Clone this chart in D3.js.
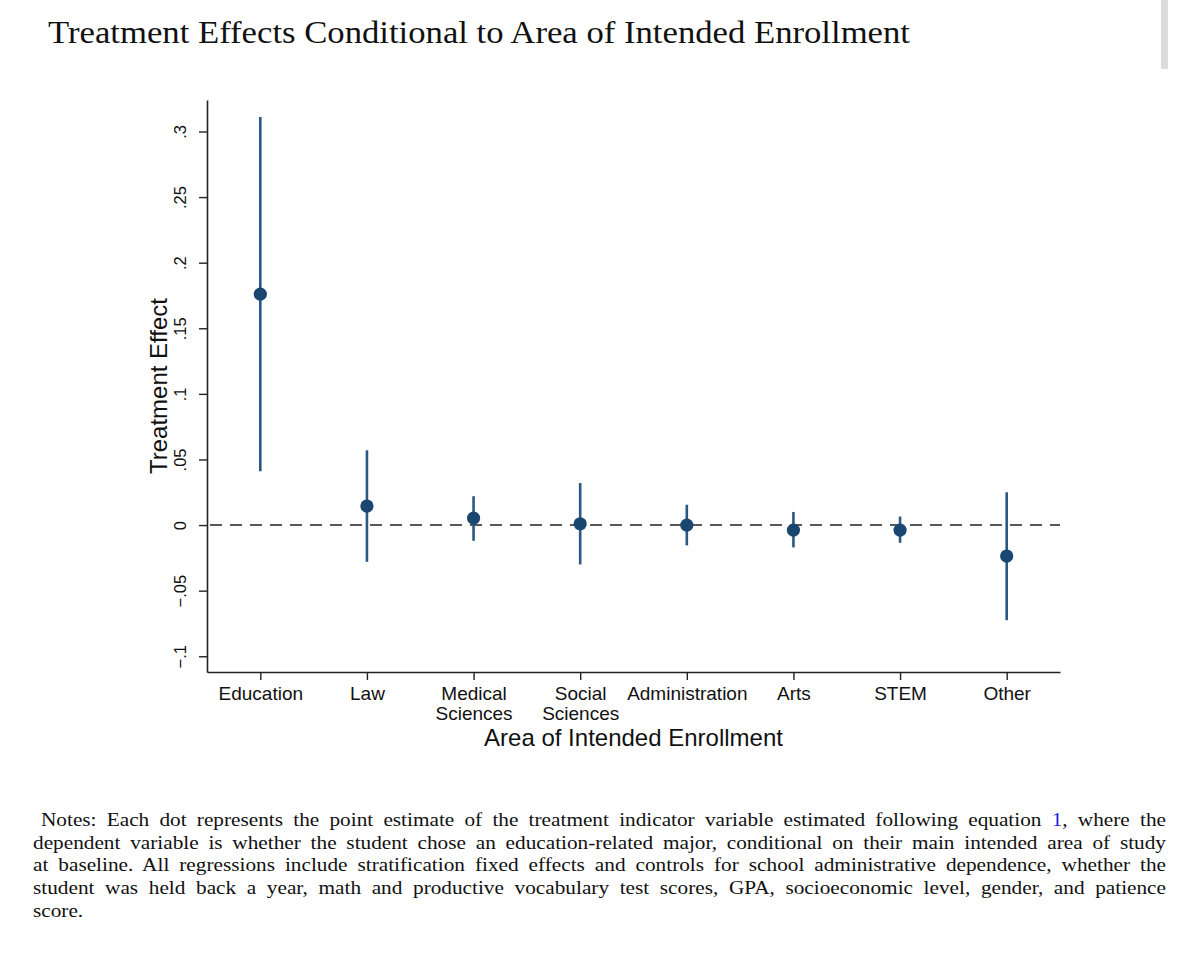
<!DOCTYPE html>
<html>
<head>
<meta charset="utf-8">
<script src="https://cdn.jsdelivr.net/npm/d3@7"></script>
<style>
  body { margin: 0; background: #fff; }
  svg { display: block; }
</style>
</head>
<body>
<div id="chart"></div>
<script>
// Data
const categories = ["Education", "Law", "Medical Sciences", "Social Sciences", "Administration", "Arts", "STEM", "Other"];
const labelLines = [["Education"], ["Law"], ["Medical", "Sciences"], ["Social", "Sciences"], ["Administration"], ["Arts"], ["STEM"], ["Other"]];
const estimates = [0.176, 0.0145, 0.0053, 0.001, 0.0, -0.0038, -0.0038, -0.0236];
const ciLow  = [0.041, -0.028, -0.012, -0.030, -0.0155, -0.0170, -0.0135, -0.0725];
const ciHigh = [0.311, 0.057, 0.022, 0.032, 0.0155, 0.0100, 0.0065, 0.0250];
const yTicks = [-0.1, -0.05, 0, 0.05, 0.1, 0.15, 0.2, 0.25, 0.3];

const title = "Treatment Effects Conditional to Area of Intended Enrollment";
const noteLines = [
  ["Notes: Each dot represents the point estimate of the treatment indicator variable estimated following equation ", "1", ", where the"],
  ["dependent variable is whether the student chose an education-related major, conditional on their main intended area of study"],
  ["at baseline. All regressions include stratification fixed effects and controls for school administrative dependence, whether the"],
  ["student was held back a year, math and productive vocabulary test scores, GPA, socioeconomic level, gender, and patience"],
  ["score."]
];

const W = 1200, H = 957;
const svg = d3.select("#chart").append("svg")
    .attr("width", W)
    .attr("height", H);

// stray scrollbar sliver at top right
svg.append("rect")
   .attr("x", 1161).attr("y", 0).attr("width", 7).attr("height", 69)
   .attr("fill", "#dcdcdc");

// title
svg.append("text")
   .attr("x", 48).attr("y", 43)
   .attr("font-family", "Liberation Serif, serif")
   .attr("font-size", 31)
   .attr("textLength", 862)
   .attr("lengthAdjust", "spacingAndGlyphs")
   .attr("fill", "#111")
   .text(title);

// plot region
const plotLeft = 207, plotRight = 1060, plotTop = 100, plotBottom = 672;

const x = d3.scalePoint()
            .domain(categories)
            .range([plotLeft, plotRight])
            .padding(0.5);

const y = d3.scaleLinear()
            .domain([-0.112, 0.324])
            .range([plotBottom, plotTop]);

const axisColor = "#222";
const navy = "#1a476f";

// zero reference line
svg.append("line")
   .attr("x1", plotLeft + 3).attr("x2", plotRight)
   .attr("y1", y(0)).attr("y2", y(0))
   .attr("stroke", "#222")
   .attr("stroke-width", 1.6)
   .attr("stroke-dasharray", "12,8");

// confidence intervals
const rows = categories.map((c, i) => ({ c, est: estimates[i], lo: ciLow[i], hi: ciHigh[i] }));

svg.selectAll(".ci")
   .data(rows)
   .enter()
   .append("line")
   .attr("class", "ci")
   .attr("x1", d => x(d.c)).attr("x2", d => x(d.c))
   .attr("y1", d => y(d.lo)).attr("y2", d => y(d.hi))
   .attr("stroke", "#2a5783")
   .attr("stroke-width", 2.6);

svg.selectAll(".pt")
   .data(rows)
   .enter()
   .append("circle")
   .attr("class", "pt")
   .attr("cx", d => x(d.c))
   .attr("cy", d => y(d.est))
   .attr("r", 6.6)
   .attr("fill", navy);

// y axis
const fmt = d => d === 0 ? "0" : d3.format(".2~f")(d).replace("0.", ".");
const yAxis = svg.append("g")
   .attr("transform", `translate(${plotLeft},0)`)
   .call(d3.axisLeft(y).tickValues(yTicks).tickFormat(fmt).tickSize(8).tickSizeOuter(0));
yAxis.select(".domain").attr("stroke", axisColor).attr("stroke-width", 1.6);
yAxis.selectAll(".tick line").attr("stroke", axisColor).attr("stroke-width", 1.4);
yAxis.selectAll(".tick text")
     .attr("font-family", "Liberation Sans, Arial, sans-serif")
     .attr("font-size", 16.5)
     .attr("fill", "#111")
     .attr("x", null).attr("dy", null)
     .attr("text-anchor", "middle")
     .attr("transform", "translate(-21,0) rotate(-90)");

// x axis
const xAxis = svg.append("g")
   .attr("transform", `translate(0,${plotBottom})`)
   .call(d3.axisBottom(x).tickSize(8).tickSizeOuter(0).tickFormat(""));
xAxis.select(".domain").attr("stroke", axisColor).attr("stroke-width", 1.6);
xAxis.selectAll(".tick line").attr("stroke", axisColor).attr("stroke-width", 1.4);

xAxis.selectAll(".tick")
     .append("text")
     .attr("font-family", "Liberation Sans, Arial, sans-serif")
     .attr("font-size", 19)
     .attr("fill", "#111")
     .attr("text-anchor", "middle")
     .selectAll("tspan")
     .data(d => labelLines[categories.indexOf(d)])
     .enter()
     .append("tspan")
     .attr("x", 0)
     .attr("y", (d, i) => 28 + i * 20)
     .text(d => d);

// axis titles
svg.append("text")
   .attr("transform", `translate(167,${(plotTop + plotBottom) / 2}) rotate(-90)`)
   .attr("text-anchor", "middle")
   .attr("font-family", "Liberation Sans, Arial, sans-serif")
   .attr("font-size", 24)
   .attr("fill", "#111")
   .text("Treatment Effect");

svg.append("text")
   .attr("x", (plotLeft + plotRight) / 2)
   .attr("y", 746)
   .attr("text-anchor", "middle")
   .attr("font-family", "Liberation Sans, Arial, sans-serif")
   .attr("font-size", 24)
   .attr("fill", "#111")
   .text("Area of Intended Enrollment");

// notes, justified line by line (stretch glyphs a bit, then spread words)
const noteTop = 826, noteStep = 22.7, noteRight = 1166, stretch = 1.12;
noteLines.forEach((parts, i) => {
    const startX = i === 0 ? 41 : 33;
    const t = svg.append("text")
       .attr("transform", `translate(${startX},${noteTop + i * noteStep}) scale(${stretch},1)`)
       .attr("font-family", "Liberation Serif, serif")
       .attr("font-size", 19)
       .attr("fill", "#111");
    parts.forEach((p, j) => {
        t.append("tspan")
         .attr("fill", (i === 0 && j === 1) ? "#1f1fd8" : "#111")
         .text(p);
    });
    if (i < noteLines.length - 1) {
        const natural = t.node().getComputedTextLength();
        const spaces = parts.join("").split(" ").length - 1;
        const extra = ((noteRight - startX) / stretch - natural) / spaces;
        t.attr("word-spacing", extra);
    }
});
</script>
</body>
</html>
